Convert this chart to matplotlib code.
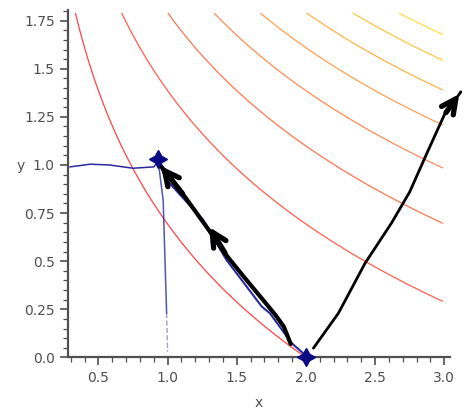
import numpy as np
import matplotlib
matplotlib.use("Agg")
import matplotlib.pyplot as plt
from matplotlib.ticker import MultipleLocator

# contour levels of f(x,y) = x*exp(y)
levels = [2, 4, 6, 8, 10, 12, 14, 16]
level_colors = ["#ff4545", "#ff5f4a", "#ff7650", "#ff8c55", "#ffa052", "#ffb34c", "#ffc845", "#ffe04a"]

# blue traced lines
blue_left_x = [0.295, 0.44, 0.58, 0.75, 0.90, 0.932]
blue_left_y = [0.99, 1.004, 1.0, 0.983, 0.99, 1.02]
blue_down_x = [0.932, 0.968, 0.993]
blue_down_y = [1.02, 0.818, 0.23]
blue_dash_x = [0.993, 1.0]
blue_dash_y = [0.23, 0.03]
blue_diag_x = [0.932, 0.993, 1.257, 1.426, 1.681, 1.739, 1.897, 1.994]
blue_diag_y = [1.02, 0.922, 0.714, 0.506, 0.264, 0.23, 0.074, 0.013]

# star points
star_x = [0.932, 2.0]
star_y = [1.03, 0.0]

# black hand drawn paths
black_a_x = [1.89, 1.84, 1.78, 1.70, 1.55, 1.426, 1.29, 1.12, 0.94]
black_a_y = [0.07, 0.16, 0.22, 0.29, 0.42, 0.53, 0.67, 0.84, 1.005]
black_b_x = [2.054, 2.235, 2.427, 2.62, 2.75, 2.885, 3.0, 3.12]
black_b_y = [0.048, 0.23, 0.489, 0.70, 0.86, 1.078, 1.26, 1.38]

xticks = [0.5, 1.0, 1.5, 2.0, 2.5, 3.0]
xtick_labels = ["0.5", "1.0", "1.5", "2.0", "2.5", "3.0"]
yticks = [0.0, 0.25, 0.5, 0.75, 1.0, 1.25, 1.5, 1.75]
ytick_labels = ["0.0", "0.25", "0.5", "0.75", "1.0", "1.25", "1.5", "1.75"]

fig = plt.figure(figsize=(4.72, 4.19), dpi=100)
ax = fig.add_axes([0.144, 0.147, 0.809, 0.829])

gx, gy = np.meshgrid(np.linspace(0.3, 2.99, 400), np.linspace(0.0, 1.79, 400))
ax.contour(gx, gy, gx * np.exp(gy), levels=levels, colors=level_colors, linewidths=0.9)

blue = "#2a2a9e"
ax.plot(blue_left_x, blue_left_y, color=blue, lw=1.1)
ax.plot(blue_down_x, blue_down_y, color=blue, lw=1.1, alpha=0.8)
ax.plot(blue_dash_x, blue_dash_y, color=blue, lw=1.0, ls="--", alpha=0.45)
ax.plot(blue_diag_x, blue_diag_y, color=blue, lw=1.5)

ax.plot(black_a_x, black_a_y, color="black", lw=3.0, solid_capstyle="round", solid_joinstyle="round")
ax.plot(black_b_x, black_b_y, color="black", lw=2.0, solid_capstyle="round", solid_joinstyle="round",
        clip_on=False)

arrow = dict(arrowstyle="->", lw=3.8, color="black", mutation_scale=26)
ax.annotate("", xy=(black_a_x[-1], black_a_y[-1]), xytext=(black_a_x[-2], black_a_y[-2]),
            arrowprops=arrow, annotation_clip=False)
ax.annotate("", xy=(black_a_x[6], black_a_y[6] + 0.02), xytext=(black_a_x[5], black_a_y[5]),
            arrowprops=arrow, annotation_clip=False)
ax.annotate("", xy=(black_b_x[-1], black_b_y[-1]), xytext=(black_b_x[-2], black_b_y[-2]),
            arrowprops=arrow, annotation_clip=False)

ax.plot(star_x, star_y, ls="none", marker=(4, 1, 0), ms=13, color="#0a0a85", clip_on=False, zorder=5)

ax.set_xlim(0.28, 3.04)
ax.set_ylim(0.0, 1.805)
for s in ["top", "right"]:
    ax.spines[s].set_visible(False)
for s in ["left", "bottom"]:
    ax.spines[s].set_linewidth(1.6)
    ax.spines[s].set_color("#505050")

ax.set_xticks(xticks)
ax.set_xticklabels(xtick_labels)
ax.set_yticks(yticks)
ax.set_yticklabels(ytick_labels)
ax.xaxis.set_minor_locator(MultipleLocator(0.1))
ax.yaxis.set_minor_locator(MultipleLocator(0.05))
ax.tick_params(which="major", length=6, width=1.2, color="#505050", labelsize=10, labelcolor="#505050")
ax.tick_params(which="minor", length=3.5, width=0.9, color="#505050")

ax.set_xlabel("x", fontsize=10, color="#505050", labelpad=8)
ax.set_ylabel("y", fontsize=10, color="#505050", rotation=0, labelpad=6)
ax.yaxis.set_label_coords(-0.125, 0.53)

fig.savefig("out.png", dpi=100)
